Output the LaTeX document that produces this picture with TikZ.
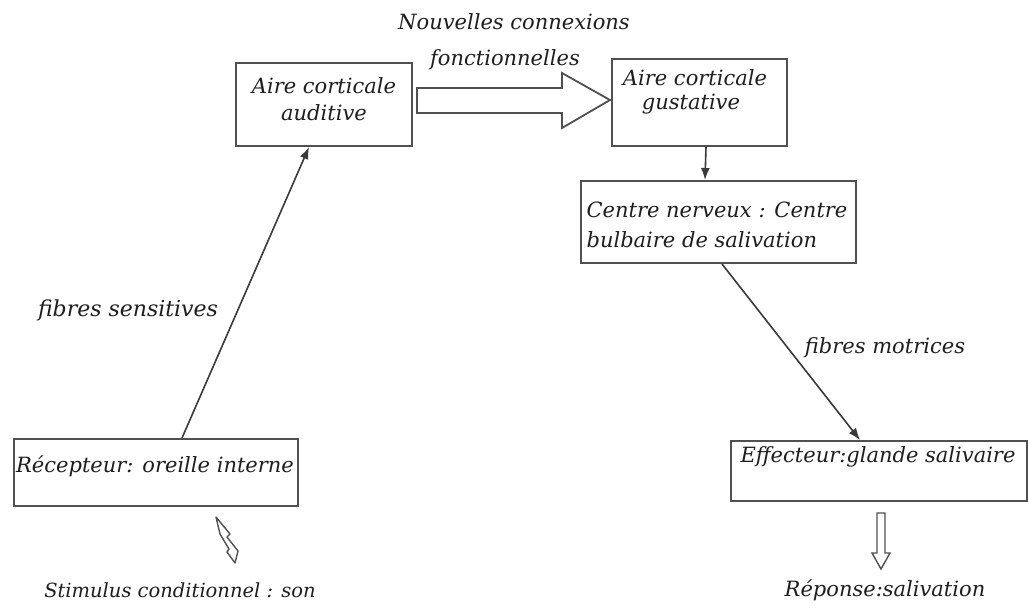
\documentclass[tikz,border=0pt]{standalone}
\usepackage{fontspec}
\setmainfont{DejaVu Serif}
\usetikzlibrary{arrows.meta,calc}
\definecolor{boxline}{HTML}{505050}
\definecolor{arrline}{HTML}{3A3A3A}
\definecolor{txt}{HTML}{1E1E1E}
\tikzset{
  box/.style={draw=boxline,line width=2pt,inner sep=0pt,anchor=north west},
  lbl/.style={text=txt,font=\itshape\fontsize{21}{27}\selectfont,inner sep=0pt,align=center},
  conn/.style={draw=arrline,line width=1.6pt,-{Latex[length=12pt,width=9pt]}},
  hollow/.style={draw=boxline,line width=1.8pt,fill=white,line join=miter}
}
\begin{document}
\begin{tikzpicture}[x=1pt,y=-1pt]
\useasboundingbox[fill=white] (0,0) rectangle (1029,608);
% boxes
\node[box,minimum width=176pt,minimum height=83pt] (aud) at (235,62) {};
\node[box,minimum width=175pt,minimum height=87pt] (gus) at (611,58) {};
\node[box,minimum width=275pt,minimum height=82pt] (cen) at (580,180) {};
\node[box,minimum width=284pt,minimum height=67pt] (rec) at (13,438) {};
\node[box,minimum width=296pt,minimum height=60pt] (eff) at (730,440) {};
% box texts
\node[lbl] (audt) at (324,99) {Aire corticale\\auditive};
\node[lbl,align=left,font=\itshape\fontsize{21}{24}\selectfont] (gust) at (695,92) {Aire corticale\\\hspace*{0.9em}gustative};
\node[lbl,align=left,font=\itshape\fontsize{21}{30}\selectfont] (cent) at (717,225) {Centre nerveux : Centre\\bulbaire de salivation};
\node[lbl] (rect) at (155,466) {Récepteur: oreille interne};
\node[lbl] (efft) at (878,457) {Effecteur:glande salivaire};
% free labels
\node[lbl] (nouv) at (514,22) {Nouvelles connexions};
\node[lbl] (fonc) at (505,60) {fonctionnelles};
\node[lbl,font=\itshape\fontsize{22}{27}\selectfont] (fsen) at (128,310) {fibres sensitives};
\node[lbl] (fmot) at (885,348) {fibres motrices};
\node[lbl,font=\itshape\fontsize{19.5}{22}\selectfont] (stim) at (180,590) {Stimulus conditionnel : son};
\node[lbl] (rep) at (885,590) {Réponse:salivation};
% connectors
\draw[conn] ([xshift=169pt]rec.north west) -- ([xshift=74pt]aud.south west);
\draw[conn] ([xshift=95pt]gus.south west) -- ([xshift=125pt]cen.north west);
\draw[conn] ([xshift=142pt]cen.south west) -- ([xshift=130pt]eff.north west);
% big hollow arrow
\draw[hollow] (417,88) -- (562,88) -- (562,73) -- (610,100) -- (562,128) -- (562,113) -- (417,113) -- cycle;
% small hollow arrow
\draw[hollow,line width=1.4pt] (877,513) -- (885,513) -- (885,553) -- (890,553) -- (881,569) -- (872,553) -- (877,553) -- cycle;
% hollow lightning
\draw[hollow,line width=1.4pt,line join=round] (216,517) -- (230,534) -- (227,537) -- (238,551) -- (235,563) -- (227,552) -- (229,549) -- (220,534) -- cycle;
\end{tikzpicture}
\end{document}
